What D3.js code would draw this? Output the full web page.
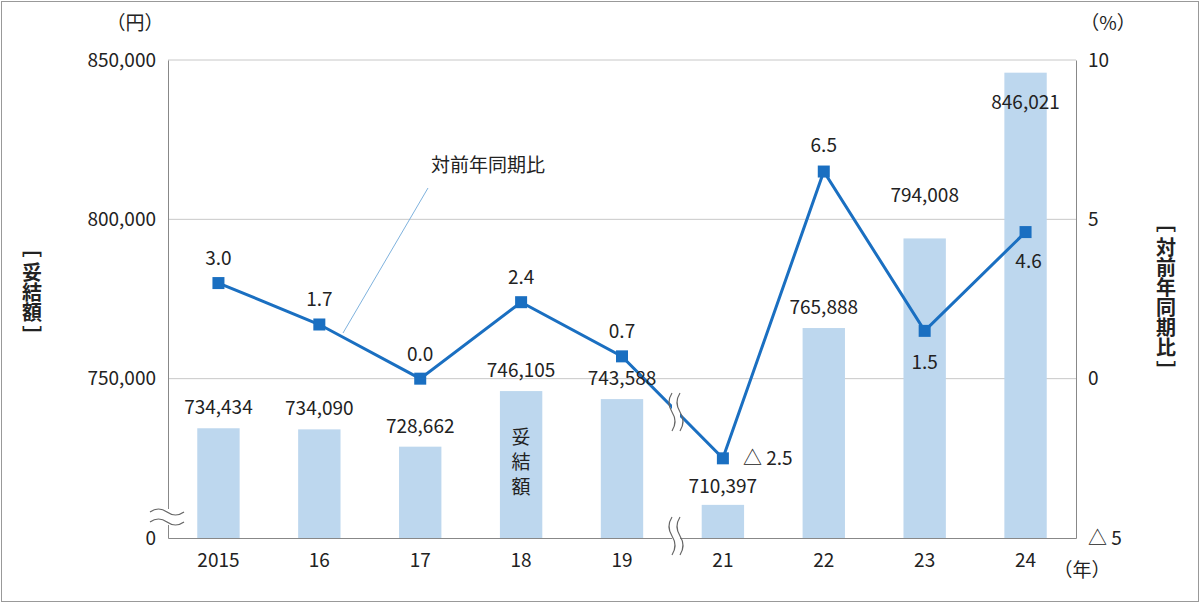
<!DOCTYPE html>
<html><head><meta charset="utf-8">
<script src="https://cdn.jsdelivr.net/npm/d3@7"></script>
<style>body{margin:0;background:#fff}text{font-family:"Noto Sans CJK JP","Noto Sans",sans-serif;fill:#222}</style>
</head><body><svg id="c" width="1200" height="603"></svg>
<script>
// data
const years = ["2015", "16", "17", "18", "19", "21", "22", "23", "24"];
const amounts = [734434, 734090, 728662, 746105, 743588, 710397, 765888, 794008, 846021];
const rates = [3.0, 1.7, 0.0, 2.4, 0.7, -2.5, 6.5, 1.5, 4.6];
const leftTicks = [700000, 750000, 800000, 850000];
const rightTicks = [-5, 0, 5, 10];

const blue = "#1a6fc1", barFill = "#bdd7ee", fs = 19;
const svg = d3.select("#c");
svg.append("rect").attr("x", 1.5).attr("y", 1.5).attr("width", 1197).attr("height", 600)
    .attr("fill", "none").attr("stroke", "#999");

const x = d3.scaleBand().domain(years).range([168, 1076]).paddingInner(0.58).paddingOuter(0.29);
const yL = d3.scaleLinear().domain([700000, 850000]).range([538, 60]);
const yR = d3.scaleLinear().domain([-5, 10]).range([538, 60]);
const cx = d => x(d) + x.bandwidth() / 2;

// grid
svg.append("g").selectAll("line").data(leftTicks.slice(1)).join("line")
    .attr("x1", 168).attr("x2", 1076).attr("y1", d => yL(d)).attr("y2", d => yL(d))
    .attr("stroke", "#c8c8c8");

// bars
svg.append("g").selectAll("rect").data(amounts).join("rect")
    .attr("x", (d, i) => x(years[i])).attr("width", x.bandwidth())
    .attr("y", d => yL(d)).attr("height", d => 538 - yL(d)).attr("fill", barFill);

// axes
const fmt = d3.format(",");
svg.append("g").attr("transform", "translate(168,0)")
    .call(d3.axisLeft(yL).tickValues(leftTicks).tickSize(0).tickPadding(12)
        .tickFormat(d => d === 700000 ? "0" : fmt(d)))
    .call(g => g.select(".domain").attr("stroke", "#888"))
    .call(g => g.selectAll("text").attr("font-size", fs));
svg.append("g").attr("transform", "translate(1076,0)")
    .call(d3.axisRight(yR).tickValues(rightTicks).tickSize(0).tickPadding(12)
        .tickFormat(d => d < 0 ? "△ " + (-d) : d))
    .call(g => g.select(".domain").attr("stroke", "#888"))
    .call(g => g.selectAll("text").attr("font-size", fs));
svg.append("g").attr("transform", "translate(0,538)")
    .call(d3.axisBottom(x).tickSize(0).tickPadding(16))
    .call(g => g.select(".domain").attr("stroke", "#888"))
    .call(g => g.selectAll("text").attr("font-size", fs));

// line
svg.append("path").datum(rates)
    .attr("d", d3.line().x((d, i) => cx(years[i])).y(d => yR(d)))
    .attr("fill", "none").attr("stroke", blue).attr("stroke-width", 3);
svg.append("g").selectAll("rect").data(rates).join("rect")
    .attr("x", (d, i) => cx(years[i]) - 6).attr("y", d => yR(d) - 6)
    .attr("width", 12).attr("height", 12).attr("fill", blue);

// wavy break marks
function wave(x0, y0, w, h) {
    const g = svg.append("g");
    g.append("rect").attr("x", x0 - 3).attr("y", y0 - 3).attr("width", w + 6).attr("height", h + 6).attr("fill", "#fff");
    [0, h].forEach(o => g.append("path")
        .attr("d", `M${x0},${y0 + o} q${w / 4},${-6} ${w / 2},0 t${w / 2},0`)
        .attr("fill", "none").attr("stroke", "#666").attr("stroke-width", 1.2));
}
function vwave(x0, y0, w, h) {
    const g = svg.append("g");
    g.append("rect").attr("x", x0).attr("y", y0).attr("width", w).attr("height", h).attr("fill", "#fff");
    [0, w].forEach(o => g.append("path")
        .attr("d", `M${x0 + o},${y0} q-6,${h / 4} 0,${h / 2} t0,${h / 2}`)
        .attr("fill", "none").attr("stroke", "#666").attr("stroke-width", 1.2));
}
wave(150, 512, 34, 10);
vwave(672, 393, 8, 38);
vwave(672, 517, 8, 38);

// value labels
const barLab = [[0, -14], [0, -14], [0, -14], [0, -14], [0, -14], [0, -12], [0, -14], [0, -36], [0, 36]];
svg.append("g").selectAll("text").data(amounts).join("text")
    .attr("x", (d, i) => cx(years[i]) + barLab[i][0]).attr("y", (d, i) => yL(d) + barLab[i][1])
    .attr("text-anchor", "middle").attr("font-size", fs).text(d => fmt(d));
const rateLab = [[0, -18, "middle"], [0, -18, "middle"], [0, -18, "middle"], [0, -18, "middle"], [0, -18, "middle"],
    [20, 7, "start"], [0, -20, "middle"], [0, 38, "middle"], [3, 36, "middle"]];
svg.append("g").selectAll("text").data(rates).join("text")
    .attr("x", (d, i) => cx(years[i]) + rateLab[i][0]).attr("y", (d, i) => yR(d) + rateLab[i][1])
    .attr("text-anchor", (d, i) => rateLab[i][2]).attr("font-size", fs)
    .text(d => d < 0 ? "△ " + (-d).toFixed(1) : d.toFixed(1));

// in-bar label
svg.append("text").attr("x", cx("18")).attr("y", 444).attr("text-anchor", "middle").attr("font-size", fs)
    .selectAll("tspan").data(["妥", "結", "額"]).join("tspan")
    .attr("x", cx("18")).attr("dy", (d, i) => i ? 25 : 0).text(d => d);

// annotation
svg.append("line").attr("x1", 428).attr("y1", 188).attr("x2", 343).attr("y2", 333)
    .attr("stroke", "#7fb2dd").attr("stroke-width", 1);
svg.append("text").attr("x", 488).attr("y", 172).attr("text-anchor", "middle").attr("font-size", fs).text("対前年同期比");

// units & titles
svg.append("text").attr("x", 135).attr("y", 30).attr("text-anchor", "middle").attr("font-size", fs).text("（円）");
svg.append("text").attr("x", 1108).attr("y", 30).attr("text-anchor", "middle").attr("font-size", fs).text("（%）");
svg.append("text").attr("x", 1082).attr("y", 577).attr("text-anchor", "middle").attr("font-size", fs).text("（年）");
svg.append("text").attr("transform", "translate(32,292)").attr("writing-mode", "vertical-rl")
    .attr("text-anchor", "middle").attr("font-size", 20).attr("font-weight", "bold").text("［ 妥結額 ］");
svg.append("text").attr("transform", "translate(1166,297)").attr("writing-mode", "vertical-rl")
    .attr("text-anchor", "middle").attr("font-size", 20).attr("font-weight", "bold").text("［ 対前年同期比 ］");
</script></body></html>
